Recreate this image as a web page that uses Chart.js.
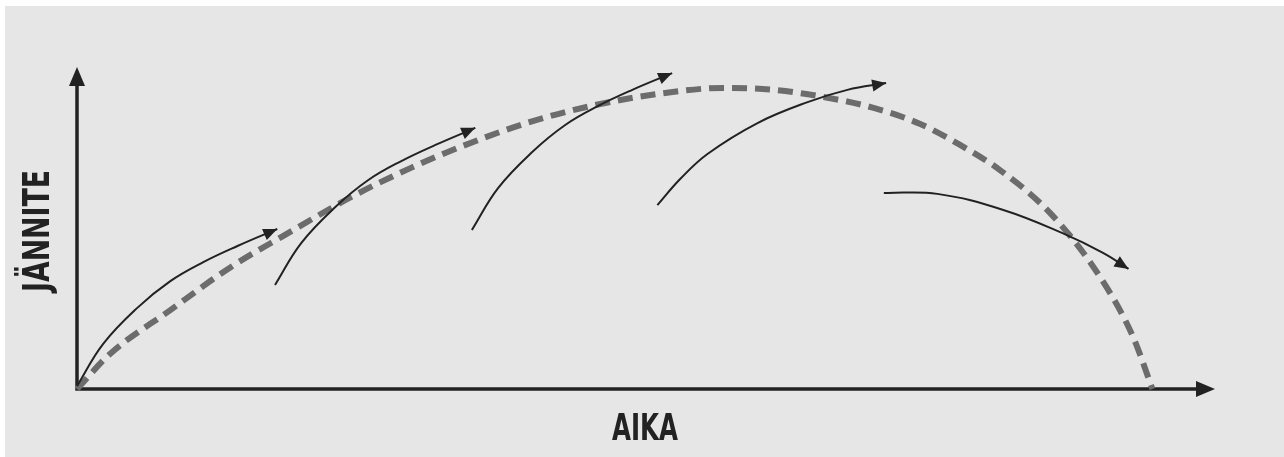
<!DOCTYPE html>
<html>
<head>
<meta charset="utf-8">
<script src="https://cdn.jsdelivr.net/npm/chart.js@4"></script>
<style>
  html, body { margin: 0; padding: 0; background: #ffffff; }
  #wrap { position: relative; width: 1284px; height: 457px; overflow: hidden; }
  #bg { position: absolute; left: 5px; top: 6px; right: 0; bottom: 0; background: #e6e6e6; }
  #myChart { position: absolute; left: 0; top: 0; }
</style>
</head>
<body>
<div id="wrap">
  <div id="bg"></div>
  <canvas id="myChart" width="1284" height="457"></canvas>
</div>
<script>
// axis titles
var xTitle = 'AIKA';
var yTitle = 'JÄNNITE';

// dashed envelope curve (time, voltage)
var envelope = [
    {x: 0, y: 0}, {x: 2.9, y: 10.9}, {x: 8.2, y: 24.5}, {x: 13.4, y: 37.6},
    {x: 18.1, y: 47.5}, {x: 24.3, y: 60.0}, {x: 29.3, y: 68.6}, {x: 33.7, y: 75.2},
    {x: 39.5, y: 82.6}, {x: 45.3, y: 88.0}, {x: 51.2, y: 91.7}, {x: 56.8, y: 93.5},
    {x: 61.2, y: 92.9}, {x: 65.6, y: 90.7}, {x: 70.0, y: 87.3}, {x: 74.1, y: 82.3},
    {x: 77.6, y: 75.8}, {x: 81.1, y: 68.0}, {x: 85.5, y: 54.7}, {x: 89.9, y: 34.8},
    {x: 92.8, y: 16.2}, {x: 94.5, y: 0}
];

// the five solid arrows
var arrow1 = [
    {x: 0, y: 0.9}, {x: 2.3, y: 14.0}, {x: 5.3, y: 25.2}, {x: 8.2, y: 33.5},
    {x: 11.1, y: 39.4}, {x: 14.1, y: 44.4}, {x: 17.6, y: 49.7}
];
var arrow2 = [
    {x: 17.4, y: 32.3}, {x: 19.7, y: 45.3}, {x: 22.7, y: 56.5}, {x: 25.6, y: 64.9},
    {x: 28.5, y: 70.8}, {x: 31.5, y: 75.8}, {x: 35.0, y: 81.1}
];
var arrow3 = [
    {x: 34.7, y: 49.4}, {x: 37.0, y: 62.4}, {x: 40.0, y: 73.6}, {x: 42.9, y: 82.0},
    {x: 45.8, y: 87.9}, {x: 48.8, y: 92.9}, {x: 52.3, y: 98.1}
];
var arrow4 = [
    {x: 51.0, y: 57.1}, {x: 53.0, y: 65.2}, {x: 55.4, y: 73.0}, {x: 59.8, y: 82.6},
    {x: 64.2, y: 89.1}, {x: 67.7, y: 92.9}, {x: 71.1, y: 95.0}
];
var arrow5 = [
    {x: 70.9, y: 60.9}, {x: 75.6, y: 60.6}, {x: 81.4, y: 55.6},
    {x: 86.6, y: 48.4}, {x: 90.2, y: 42.2}, {x: 92.4, y: 37.3}
];

var ink = '#222222';
var titleFont = '700 37px "DejaVu Sans Condensed", "DejaVu Sans", "Liberation Sans", sans-serif';

function arrowSet(points) {
    return {
        data: points,
        borderColor: ink,
        borderWidth: 2,
        pointRadius: 0,
        tension: 0.4,
        fill: false,
        isArrow: true
    };
}

function drawHead(c, tipX, tipY, angle, len, half) {
    c.save();
    c.translate(tipX, tipY);
    c.rotate(angle);
    c.beginPath();
    c.moveTo(0, 0);
    c.lineTo(-len, -half);
    c.lineTo(-len, half);
    c.closePath();
    c.fillStyle = ink;
    c.fill();
    c.restore();
}

// narrow bold title: squeeze text to the width seen in the picture
function drawTitle(c, text, x, y, angle, width) {
    c.save();
    c.font = titleFont;
    c.fillStyle = ink;
    c.textAlign = 'center';
    c.textBaseline = 'middle';
    c.translate(x, y);
    c.rotate(angle);
    c.scale(width / c.measureText(text).width, 1);
    c.fillText(text, 0, 0);
    c.restore();
}

// axes with arrowheads, axis titles and heads on the curves
var arrowPlugin = {
    id: 'arrows',
    beforeDatasetsDraw: function(chart) {
        var c = chart.ctx;
        var a = chart.chartArea;
        var x0 = chart.scales.x.getPixelForValue(0);
        var y0 = chart.scales.y.getPixelForValue(0);
        c.save();
        c.strokeStyle = ink;
        c.lineWidth = 3.5;
        c.beginPath();
        c.moveTo(x0, y0 + 1.5);
        c.lineTo(x0, a.top + 15);
        c.moveTo(x0 - 1.5, y0);
        c.lineTo(a.right - 15, y0);
        c.stroke();
        c.restore();
        drawHead(c, x0, a.top, -Math.PI / 2, 19, 8);
        drawHead(c, a.right, y0, 0, 19, 8);

        drawTitle(c, xTitle, 645, 430, 0, 66);
        drawTitle(c, yTitle, 39, 231, -Math.PI / 2, 122);
    },
    afterDatasetsDraw: function(chart) {
        var c = chart.ctx;
        chart.data.datasets.forEach(function(ds, i) {
            if (!ds.isArrow) return;
            var pts = chart.getDatasetMeta(i).data;
            var last = pts[pts.length - 1];
            var fromX = last.cp1x, fromY = last.cp1y;
            if (fromX === undefined || (fromX === last.x && fromY === last.y)) {
                fromX = pts[pts.length - 2].x;
                fromY = pts[pts.length - 2].y;
            }
            var ang = Math.atan2(last.y - fromY, last.x - fromX);
            drawHead(c, last.x, last.y, ang, 14, 6);
        });
    }
};

var ctx = document.getElementById('myChart').getContext('2d');

var chart = new Chart(ctx, {
    type: 'line',
    data: {
        datasets: [
            arrowSet(arrow1), arrowSet(arrow2), arrowSet(arrow3),
            arrowSet(arrow4), arrowSet(arrow5),
            {
                data: envelope,
                borderColor: '#6c6c6c',
                borderWidth: 6,
                borderDash: [15, 8],
                borderCapStyle: 'butt',
                pointRadius: 0,
                cubicInterpolationMode: 'monotone',
                fill: false
            }
        ]
    },
    options: {
        responsive: false,
        animation: false,
        devicePixelRatio: 1,
        layout: { padding: { left: 77, right: 69, top: 67, bottom: 68 } },
        plugins: { legend: { display: false }, tooltip: { enabled: false } },
        elements: { line: { capBezierPoints: false } },
        datasets: { line: { clip: false } },
        scales: {
            x: { type: 'linear', min: 0, max: 100, display: false },
            y: { type: 'linear', min: 0, max: 100, display: false }
        }
    },
    plugins: [arrowPlugin]
});
</script>
</body>
</html>
